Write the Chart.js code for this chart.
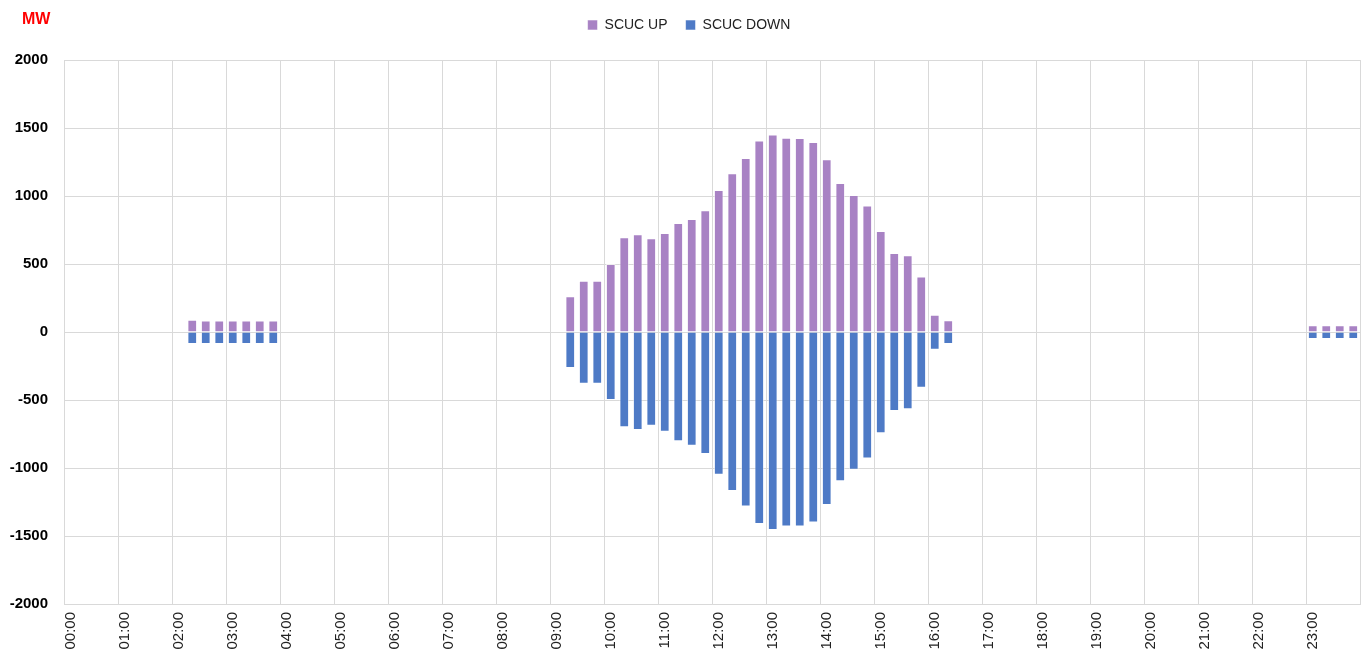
<!DOCTYPE html>
<html>
<head>
<meta charset="utf-8">
<script src="https://cdn.jsdelivr.net/npm/chart.js@4.4.1/dist/chart.umd.min.js"></script>
<style>
  html, body { margin: 0; padding: 0; background: #fff; }
  #wrap { position: relative; width: 1361px; height: 658px; }
  #unit { position: absolute; left: 22px; top: 10px; font: bold 16px "Liberation Sans", Arial, sans-serif; color: #ff0000; }
</style>
</head>
<body>
<div id="wrap">
  <canvas id="c" width="1361" height="658"></canvas>
  <div id="unit">MW</div>
</div>
<script>
// 15-minute time slots
const timeLabels = [
  "00:00","00:15","00:30","00:45","01:00","01:15","01:30","01:45","02:00","02:15","02:30","02:45","03:00","03:15","03:30","03:45",
  "04:00","04:15","04:30","04:45","05:00","05:15","05:30","05:45","06:00","06:15","06:30","06:45","07:00","07:15","07:30","07:45",
  "08:00","08:15","08:30","08:45","09:00","09:15","09:30","09:45","10:00","10:15","10:30","10:45","11:00","11:15","11:30","11:45",
  "12:00","12:15","12:30","12:45","13:00","13:15","13:30","13:45","14:00","14:15","14:30","14:45","15:00","15:15","15:30","15:45",
  "16:00","16:15","16:30","16:45","17:00","17:15","17:30","17:45","18:00","18:15","18:30","18:45","19:00","19:15","19:30","19:45",
  "20:00","20:15","20:30","20:45","21:00","21:15","21:30","21:45","22:00","22:15","22:30","22:45","23:00","23:15","23:30","23:45"
];

const scucUp = [
  null,null,null,null,null,null,null,null,null,90,85,85,85,85,85,85,
  null,null,null,null,null,null,null,null,null,null,null,null,null,null,null,null,
  null,null,null,null,null,262,377,377,500,696,718,689,728,801,831,895,
  1044,1167,1279,1409,1453,1429,1426,1397,1270,1096,1007,931,743,581,564,409,
  127,86,null,null,null,null,null,null,null,null,null,null,null,null,null,null,
  null,null,null,null,null,null,null,null,null,null,null,null,50,50,50,50
];

const scucDown = [
  null,null,null,null,null,null,null,null,null,-88,-88,-88,-88,-88,-88,-88,
  null,null,null,null,null,null,null,null,null,null,null,null,null,null,null,null,
  null,null,null,null,null,-265,-380,-380,-500,-701,-720,-689,-733,-804,-836,-897,
  -1049,-1169,-1284,-1412,-1456,-1431,-1431,-1400,-1272,-1098,-1012,-931,-745,-581,-568,-410,
  -130,-88,null,null,null,null,null,null,null,null,null,null,null,null,null,null,
  null,null,null,null,null,null,null,null,null,null,null,null,-51,-51,-51,-51
];

const seriesNames = ["SCUC UP", "SCUC DOWN"];
const yTickMin = -2000, yTickMax = 2000, yTickStep = 500;
const labelEvery = 4;

const GRID = '#d9d9d9';
const FONT = '"Liberation Sans", Arial, sans-serif';

const legendSpacer = {
  id: 'legendSpacer',
  beforeInit(chart) {
    const origFit = chart.legend.fit;
    chart.legend.fit = function () {
      origFit.bind(chart.legend)();
      this.height += 18;
    };
  },
  afterLayout(chart) {
    chart.legend.left += 9;
    chart.legend.right += 9;
  }
};

new Chart(document.getElementById('c'), {
  type: 'bar',
  data: {
    labels: timeLabels,
    datasets: [
      { label: seriesNames[0], data: scucUp, backgroundColor: '#a882c4', borderColor: 'rgba(255,255,255,0.55)', borderWidth: 1, barPercentage: 0.72, categoryPercentage: 1 },
      { label: seriesNames[1], data: scucDown, backgroundColor: '#4e7ac6', borderColor: 'rgba(255,255,255,0.55)', borderWidth: 1, barPercentage: 0.72, categoryPercentage: 1 }
    ]
  },
  plugins: [legendSpacer],
  options: {
    responsive: false,
    animation: false,
    layout: { padding: { top: 0, right: 1, bottom: 0, left: 0 } },
    plugins: {
      legend: {
        position: 'top',
        labels: {
          boxWidth: 10, boxHeight: 10, padding: 18,
          color: '#222',
          font: { family: FONT, size: 14 }
        }
      },
      tooltip: { enabled: false }
    },
    scales: {
      x: {
        stacked: true,
        offset: true,
        grid: {
          offset: true,
          drawTicks: false,
          color: (ctx) => (ctx.index === undefined || ctx.index % labelEvery === 0) ? GRID : 'rgba(0,0,0,0)',
          lineWidth: 1
        },
        border: { color: GRID },
        ticks: {
          autoSkip: false,
          minRotation: 90, maxRotation: 90,
          padding: 8,
          color: '#222',
          font: { family: FONT, size: 15 },
          callback: function (value, index) { return index % labelEvery === 0 ? timeLabels[index] : ''; }
        },
        afterFit: (scale) => { scale.height = 54; scale.paddingRight = 1; scale.paddingLeft = 0; }
      },
      y: {
        stacked: true,
        min: yTickMin, max: yTickMax,
        grid: { color: GRID, drawTicks: false, lineWidth: 1 },
        border: { color: GRID },
        ticks: {
          stepSize: yTickStep,
          padding: 16,
          color: '#000',
          font: { family: FONT, size: 15, weight: 'bold' },
          callback: (v) => String(v)
        },
        afterFit: (scale) => { scale.width = 64; }
      }
    }
  }
});
</script>
</body>
</html>
